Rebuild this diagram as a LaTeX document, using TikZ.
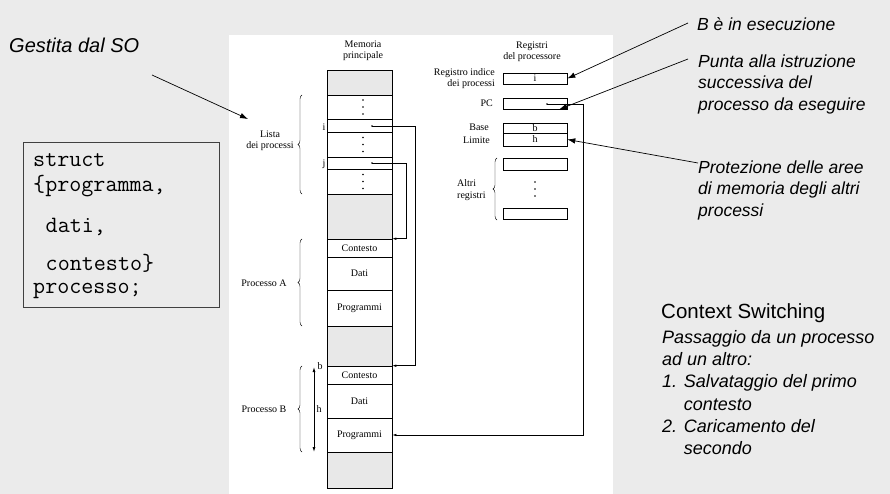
\documentclass[tikz,border=0pt]{standalone}
\usepackage{fontspec}
\setmainfont{Liberation Serif}
\newfontfamily\notefont{Liberation Sans}
\usetikzlibrary{arrows.meta,decorations.pathreplacing}
\definecolor{slidegray}{HTML}{EBEBEB}
\definecolor{shadegray}{HTML}{E8E8E8}
\definecolor{boxline}{HTML}{404040}
\tikzset{
  cell/.style={draw,line width=0.6pt,minimum width=65pt,inner sep=0pt,font=\fontsize{10}{12}\selectfont},
  shade/.style={cell,fill=shadegray},
  reg/.style={draw,line width=0.6pt,minimum width=64pt,inner sep=0pt,font=\fontsize{10}{12}\selectfont},
  lbl/.style={font=\fontsize{10}{11.5}\selectfont,inner sep=0pt},
  curly/.style={decorate,decoration={brace,amplitude=4pt},line width=0.4pt},
  ptr/.style={-{Latex[length=4pt,width=2.5pt]},line width=0.6pt},
  annot/.style={-{Latex[length=8pt,width=5.5pt]},line width=0.7pt},
  note/.style={font=\notefont\itshape\fontsize{17.5}{21.5}\selectfont,align=left,inner sep=0pt},
  code/.style={font=\ttfamily\fontsize{23.4}{26}\selectfont,inner sep=0pt,anchor=base west},
}
\begin{document}
\begin{tikzpicture}[x=1pt,y=-1pt]
    \useasboundingbox (0,0) rectangle (890,494);
    \fill[slidegray] (0,0) rectangle (890,494);
    \fill[white] (229,35) rectangle (613,494);

    % memoria principale
    \node[lbl,align=center] (memtitle) at (363,51) {Memoria\\principale};
    \node[shade,minimum height=25pt] (mtop) at (359.5,82.5) {};
    \node[cell,minimum height=24pt] (dots1) at (359.5,107) {};
    \node[cell,minimum height=13pt] (rowi) at (359.5,125.5) {};
    \node[cell,minimum height=25pt] (dots2) at (359.5,144.5) {};
    \node[cell,minimum height=12pt] (rowj) at (359.5,163) {};
    \node[cell,minimum height=25pt] (dots3) at (359.5,181.5) {};
    \node[shade,minimum height=45pt] (mfree1) at (359.5,216.5) {};
    \node[cell,minimum height=18pt] (ctxA) at (359.5,248) {Contesto};
    \node[cell,minimum height=33pt] (datA) at (359.5,273.5) {Dati};
    \node[cell,minimum height=36pt] (prgA) at (359.5,308) {Programmi};
    \node[shade,minimum height=40pt] (mfree2) at (359.5,346) {};
    \node[cell,minimum height=18pt] (ctxB) at (359.5,375) {Contesto};
    \node[cell,minimum height=34pt] (datB) at (359.5,401) {Dati};
    \node[cell,minimum height=34pt] (prgB) at (359.5,435) {Programmi};
    \node[shade,minimum height=36pt] (mbot) at (359.5,470) {};
    \foreach \d in {dots1,dots2,dots3}
        \foreach \k in {-7,0,7}
            \fill ([yshift=\k pt]\d.center) ++(3.5,0) circle (0.8pt);

    \node[lbl] (labi) at (324,127) {i};
    \node[lbl] (labj) at (324,164) {j};
    \coordinate (pi) at (372,126);
    \coordinate (pj) at (372,163);
    \fill (pi) circle (0.9pt);
    \fill (pj) circle (0.9pt);
    \draw[ptr] (pi) -- ++(43,0) |- (ctxB.north east);
    \draw[ptr] (pj) -- ++(34,0) |- (ctxA.north east);

    \draw[curly] (302,194) -- (302,95);
    \node[lbl,align=center] (lista) at (270,141) {Lista\\dei processi};
    \draw[curly] (302,326) -- (302,239);
    \node[lbl] (procA) at (264,283) {Processo A};
    \draw[curly] (302,452) -- (302,366);
    \node[lbl] (procB) at (264,409) {Processo B};

    \coordinate (bTop) at (314,367);
    \coordinate (bBot) at (314,452);
    \draw[{Latex[length=5pt,width=3pt]}-{Latex[length=5pt,width=3pt]},line width=0.8pt] (bTop) -- (bBot);
    \node[lbl] (labb) at (320,366) {b};
    \node[lbl] (labh) at (319,409) {h};

    % registri del processore
    \node[lbl,align=center] (regtitle) at (532,52) {Registri\\del processore};
    \node[reg,minimum height=11pt] (regI) at (535,78.5) {i};
    \node[reg,minimum height=11pt] (regPC) at (535,103.5) {};
    \node[reg,minimum height=10pt] (regB) at (535,128) {b};
    \node[reg,minimum height=13pt] (regH) at (535,139.5) {h};
    \node[reg,minimum height=12pt] (regA1) at (535,164) {};
    \node[reg,minimum height=11pt] (regA2) at (535,213.5) {};
    \foreach \k in {182,189,196}
        \fill (535,\k) circle (0.8pt);
    \node[lbl,align=right,anchor=east] (labI) at (495,78.5) {Registro indice\\dei processi};
    \node[lbl,anchor=east] (labPC) at (493,103) {PC};
    \node[lbl,anchor=east] (labB) at (489,127) {Base};
    \node[lbl,anchor=east] (labH) at (490,140) {Limite};
    \draw[curly] (497,220) -- (497,158);
    \node[lbl,align=left,anchor=west] (labA) at (457,190) {Altri\\registri};
    \coordinate (pc) at (547,104);
    \fill (pc) circle (0.9pt);
    \draw[ptr] (pc) -- ++(36,0) |- (prgB.east);

    % annotazioni
    \node[note,anchor=west,font=\notefont\itshape\fontsize{20}{24}\selectfont] (gestita) at (9,45) {Gestita dal SO};
    \coordinate (gFrom) at (152,75);
    \coordinate (gTo) at (248,119);
    \draw[annot] (gFrom) -- (gTo);

    \node[note,anchor=west] (inexec) at (697,24) {B è in esecuzione};
    \coordinate (eFrom) at (688,23);
    \draw[annot] (eFrom) -- (regI.east);

    \node[note,anchor=west] (punta) at (698,84) {Punta alla istruzione\\successiva del\\processo da eseguire};
    \coordinate (pFrom) at (688,59);
    \draw[annot] (pFrom) -- ([xshift=-8pt]regPC.south east);

    \node[note,anchor=west] (prot) at (698,190) {Protezione delle aree\\di memoria degli altri\\processi};
    \coordinate (hFrom) at (698,163);
    \draw[annot] (hFrom) -- (regH.east);

    \node[inner sep=0pt,anchor=west,font=\notefont\fontsize{20.5}{24}\selectfont] (cs) at (661,313) {Context Switching};
    \node[note,anchor=north west,font=\notefont\itshape\fontsize{18}{22.3}\selectfont] (csdesc) at (662,330)
        {Passaggio da un processo\\ad un altro:\\1. Salvataggio del primo\\\hphantom{1. }contesto\\2. Caricamento del\\\hphantom{2. }secondo};

    % struct processo
    \draw[boxline,fill=slidegray,line width=0.8pt] (23,142) rectangle (219,307);
    \node[code] (c1) at (33,167) {struct};
    \node[code] (c2) at (33,192) {\{programma,};
    \node[code] (c3) at (45.5,232) {dati,};
    \node[code] (c4) at (45.5,270) {contesto\}};
    \node[code] (c5) at (33,293) {processo;};
\end{tikzpicture}
\end{document}
